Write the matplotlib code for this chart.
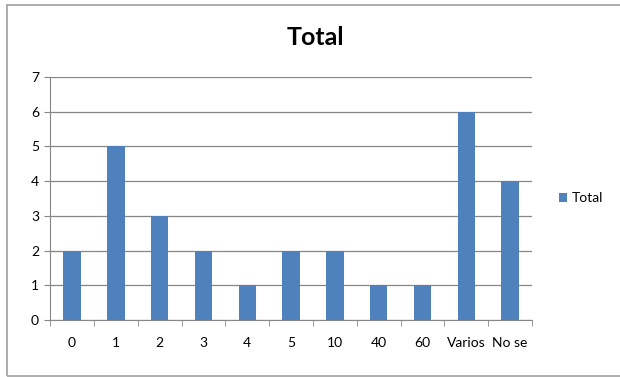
import matplotlib
matplotlib.use("Agg")
import matplotlib.pyplot as plt
from matplotlib.patches import Rectangle

categories = ["0", "1", "2", "3", "4", "5", "10", "40", "60", "Varios", "No se"]
totals = [2, 5, 3, 2, 1, 2, 2, 1, 1, 6, 4]

bar_color = "#4F81BD"
grid_color = "#868686"

plt.rcParams['font.family'] = ['Lato', 'DejaVu Sans']

fig = plt.figure(figsize=(6.2, 3.77), dpi=100)
ax = fig.add_axes([0.081, 0.151, 0.777, 0.645])

x = list(range(len(categories)))
ax.bar(x, totals, width=0.4, color=bar_color, label="Total", zorder=3)

ax.set_xlim(-0.5, len(categories) - 0.5)
ax.set_ylim(0, 7)
ax.set_yticks(range(0, 8))
ax.yaxis.grid(True, color=grid_color, linewidth=0.9, zorder=0)

# category labels sit between tick marks, like excel
ax.set_xticks(x)
ax.set_xticklabels(categories, fontsize=10)
ax.tick_params(axis="x", length=0, pad=12)
ax.set_xticks([i - 0.5 for i in range(len(categories) + 1)], minor=True)
ax.tick_params(axis="x", which="minor", length=4, color=grid_color, direction="out")
ax.tick_params(axis="y", length=4, color=grid_color, labelsize=10, pad=4)

for s in ["top", "right"]:
    ax.spines[s].set_visible(False)
for s in ["left", "bottom"]:
    ax.spines[s].set_color(grid_color)

fig.text(0.508, 0.90, "Total", ha="center", va="center", fontsize=18, fontweight="bold")

ax.legend(loc="center left", bbox_to_anchor=(1.03, 0.5), frameon=False,
          handlelength=0.6, handleheight=0.6, handletextpad=0.3, fontsize=10)

# outer chart frame, right edge runs off the image
fig.patches.append(Rectangle((0.0105, 0.003), 1.0, 0.985, transform=fig.transFigure,
                             fill=False, edgecolor="#A0A0A0", linewidth=1.2))

fig.savefig("out.png", dpi=100)
